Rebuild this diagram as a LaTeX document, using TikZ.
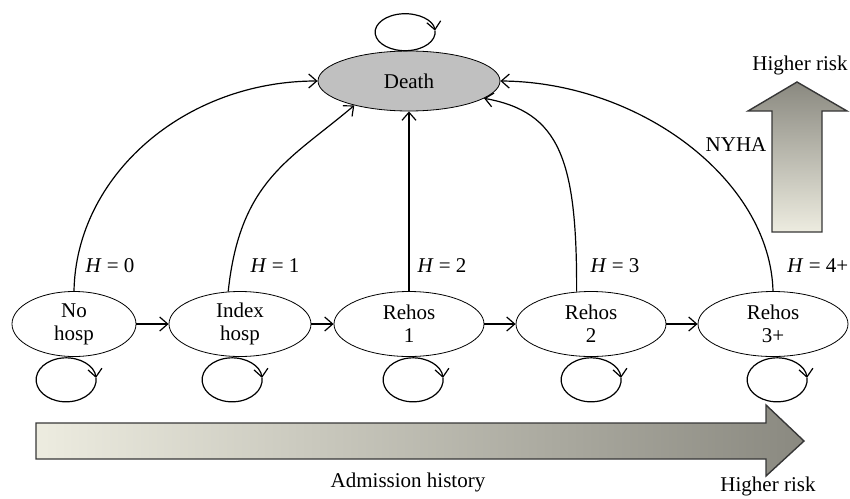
\documentclass[tikz,border=0pt]{standalone}
\usepackage{fontspec}
\setmainfont{Liberation Serif}
\usetikzlibrary{arrows.meta,shapes.geometric,calc}
\definecolor{deathGray}{RGB}{192,192,192}
\definecolor{riskLight}{RGB}{237,236,224}
\definecolor{riskDark}{RGB}{138,137,128}
\definecolor{edgeGray}{RGB}{55,55,55}

\begin{document}
\begin{tikzpicture}[x=0.5pt,y=-0.5pt,
    state/.style={draw,ellipse,inner sep=0pt,minimum height=32.5pt,align=center,font=\fontsize{10.5}{11.5}\selectfont},
    arrow/.style={-{Straight Barb[length=4pt,width=7pt]},line width=0.6pt},
    selfloop/.style={-{Straight Barb[length=4pt,width=7pt]},line width=0.6pt},
    lbl/.style={font=\fontsize{10.5}{12}\selectfont,inner sep=0pt},
    blockarrow/.style={draw=edgeGray,line width=0.7pt}
  ]
  \useasboundingbox (0,0) rectangle (850,498);

  % states
  \node[state,fill=deathGray,minimum width=91pt,minimum height=30pt] (death) at (409,81) {Death};
  \node[state,minimum width=62pt] (nohosp) at (74,324) {No\\hosp};
  \node[state,minimum width=71pt] (index) at (240,324) {Index\\hosp};
  \node[state,minimum width=75pt] (rehos1) at (409,324) {Rehos\\1};
  \node[state,minimum width=75pt] (rehos2) at (591,324) {Rehos\\2};
  \node[state,minimum width=75pt] (rehos3) at (773,324) {Rehos\\3+};

  % transitions along the admission history
  \draw[arrow] (nohosp) -- (index);
  \draw[arrow] (index) -- (rehos1);
  \draw[arrow] (rehos1) -- (rehos2);
  \draw[arrow] (rehos2) -- (rehos3);

  % transitions to death
  \draw[arrow] (nohosp.north) .. controls (76,176) and (184,81) .. (death.west);
  \draw[arrow] (index.110) .. controls (240,180) and (290,160) .. (death.204);
  \draw[arrow] (rehos1) -- (death);
  \draw[arrow] (rehos2.114) .. controls (577,160) and (560,112) .. (death.-13);
  \draw[arrow] (rehos3.north) .. controls (770,180) and (640,82) .. (death.east);

  % staying in the same state
  \draw[selfloop] ($(death.north)+(26,-20)$) arc[start angle=-5,end angle=355,x radius=30,y radius=18.5];
  \draw[selfloop] ($(nohosp.south)+(22,21)$) arc[start angle=-5,end angle=355,x radius=30,y radius=22];
  \draw[selfloop] ($(index.south)+(22,21)$) arc[start angle=-5,end angle=355,x radius=30,y radius=22];
  \draw[selfloop] ($(rehos1.south)+(34,21)$) arc[start angle=-5,end angle=355,x radius=30,y radius=22];
  \draw[selfloop] ($(rehos2.south)+(30,21)$) arc[start angle=-5,end angle=355,x radius=30,y radius=22];
  \draw[selfloop] ($(rehos3.south)+(34,21)$) arc[start angle=-5,end angle=355,x radius=30,y radius=22];

  % number of admissions
  \node[lbl] (h0) at (110,266) {\textit{H} = 0};
  \node[lbl] (h1) at (275,266) {\textit{H} = 1};
  \node[lbl] (h2) at (442,266) {\textit{H} = 2};
  \node[lbl] (h3) at (615,266) {\textit{H} = 3};
  \node[lbl,anchor=west] (h4) at (787,266) {\textit{H} = 4+};

  % risk arrows
  \draw[blockarrow,left color=riskLight,right color=riskDark]
    (36,423) -- (766,423) -- (766,405) -- (804,441) -- (766,476) -- (766,459) -- (36,459) -- cycle;
  \draw[blockarrow,top color=riskDark,bottom color=riskLight]
    (772,232) -- (772,111) -- (748,111) -- (797,82) -- (847,111) -- (822,111) -- (822,232) -- cycle;

  \node[lbl] (adm) at (408,482) {Admission history};
  \node[lbl] (riskh) at (768,486) {Higher risk};
  \node[lbl] (riskv) at (800,65) {Higher risk};
  \node[lbl] (nyha) at (736,145) {NYHA};
\end{tikzpicture}
\end{document}
